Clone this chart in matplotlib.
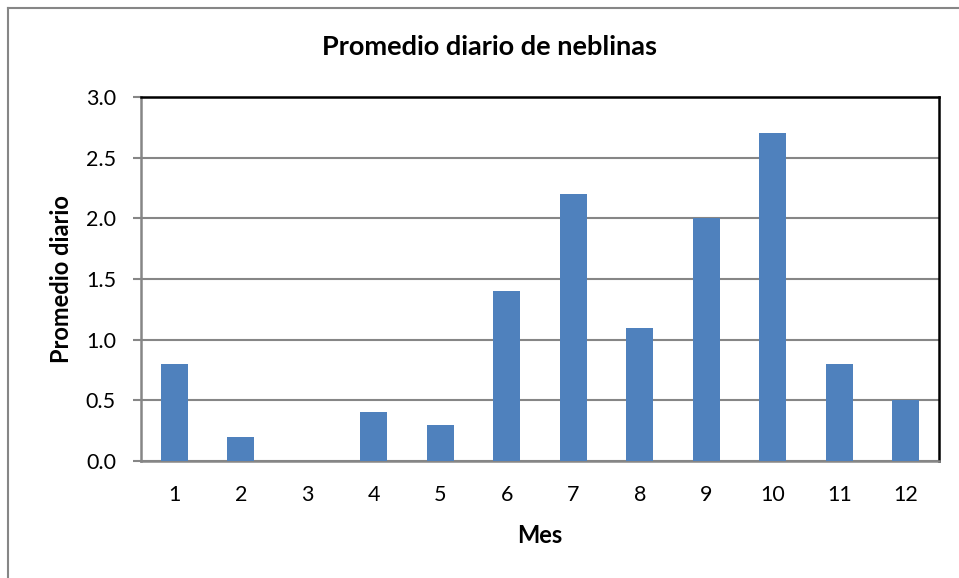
import numpy as np
import matplotlib
matplotlib.use("Agg")
import matplotlib.pyplot as plt
from matplotlib.lines import Line2D

plt.rcParams['font.family'] = ['Lato', 'DejaVu Sans']

meses = ['1', '2', '3', '4', '5', '6', '7', '8', '9', '10', '11', '12']
promedio = [0.8, 0.2, 0.0, 0.4, 0.3, 1.4, 2.2, 1.1, 2.0, 2.7, 0.8, 0.5]

fig = plt.figure(figsize=(9.59, 5.78), dpi=100)
ax = fig.add_axes([141/959, 1 - 461/578, 798/959, 364/578])

x = np.arange(len(meses))
ax.bar(x, promedio, width=0.4, color='#4F81BD', zorder=3)

ax.set_xlim(-0.5, len(meses) - 0.5)
ax.set_ylim(0, 3.0)
ax.set_yticks(np.arange(0, 3.01, 0.5))
ax.set_yticklabels(['%.1f' % v for v in np.arange(0, 3.01, 0.5)], fontsize=15.5)
ax.set_xticks(x)
ax.set_xticklabels(meses, fontsize=15.5)
ax.tick_params(axis='x', length=0, pad=17)
ax.tick_params(axis='y', length=6, width=1.5, color='#868686', pad=12)

ax.grid(axis='y', color='#868686', linewidth=1.5, zorder=0)
for side in ['left', 'bottom']:
    ax.spines[side].set_color('#868686')
    ax.spines[side].set_linewidth(1.8)
for side in ['top', 'right']:
    ax.spines[side].set_color('black')
    ax.spines[side].set_linewidth(1.8)

ax.set_xlabel('Mes', fontsize=17, fontweight='bold', labelpad=14)
ax.set_ylabel('Promedio diario', fontsize=17, fontweight='bold', labelpad=9)
fig.text(489/959, 1 - 47/578, 'Promedio diario de neblinas', ha='center', va='center',
         fontsize=19.5, fontweight='bold')

# marco exterior del grafico
fig.add_artist(Line2D([8/959, 8/959], [0, 1 - 8/578], color='#868686', linewidth=1.5))
fig.add_artist(Line2D([8/959, 1], [1 - 8/578, 1 - 8/578], color='#868686', linewidth=1.5))

fig.savefig('out.png', dpi=100)
